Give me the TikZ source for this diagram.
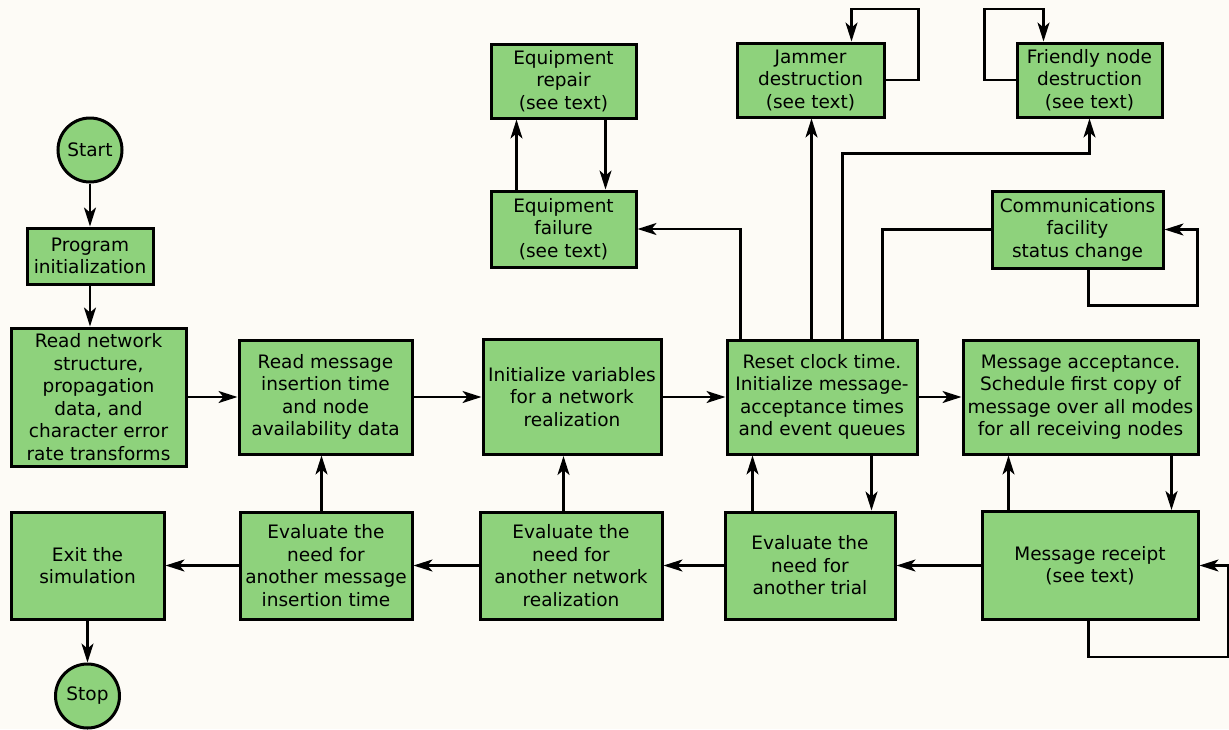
\documentclass[tikz,border=0pt]{standalone}
\usepackage{fontspec}
\setmainfont{DejaVu Sans}
\usetikzlibrary{arrows.meta}
\definecolor{boxgreen}{RGB}{142,210,124}
\definecolor{paper}{RGB}{253,251,246}
\tikzset{
  box/.style={draw=black, line width=3pt, fill=boxgreen, inner sep=0pt, align=center,
    font=\fontsize{18.5}{22.5}\selectfont},
  term/.style={box, circle},
  conn/.style={line width=2.3pt},
  arr/.style={conn, -{Stealth[length=19pt,width=12pt,inset=5pt]}},
}
\begin{document}
\begin{tikzpicture}[x=1pt,y=-1pt]
\fill[paper] (0,0) rectangle (1229,729);
\useasboundingbox (0,0) rectangle (1229,729);

% nodes
\node[term, minimum size=64] (start) at (90,150) {Start};
\node[box, minimum width=126, minimum height=56] (prog) at (90,256) {Program\\initialization};
\node[box, minimum width=175, minimum height=138] (readnet) at (98.5,397) {Read network\\structure,\\propagation\\data, and\\character error\\rate transforms};
\node[box, minimum width=173, minimum height=114] (readmsg) at (325.5,397) {Read message\\insertion time\\and node\\availability data};
\node[box, minimum width=178, minimum height=115] (initvar) at (572,397) {Initialize variables\\for a network\\realization};
\node[box, minimum width=190, minimum height=114] (reset) at (822,397) {Reset clock time.\\Initialize message-\\acceptance times\\and event queues};
\node[box, minimum width=235, minimum height=114] (accept) at (1080.5,397) {Message acceptance.\\Schedule first copy of\\message over all modes\\for all receiving nodes};
\node[box, minimum width=153, minimum height=107] (exit) at (87.5,565.5) {Exit the\\simulation};
\node[box, minimum width=172, minimum height=107] (evalmsg) at (326,565.5) {Evaluate the\\need for\\another message\\insertion time};
\node[box, minimum width=182, minimum height=107] (evalnet) at (571,565.5) {Evaluate the\\need for\\another network\\realization};
\node[box, minimum width=170, minimum height=107] (trial) at (810,565.5) {Evaluate the\\need for\\another trial};
\node[box, minimum width=216, minimum height=108] (receipt) at (1090,565.5) {Message receipt\\(see text)};
\node[term, minimum size=64] (stop) at (87.5,696) {Stop};
\node[box, minimum width=145, minimum height=74] (repair) at (563.5,81) {Equipment\\repair\\(see text)};
\node[box, minimum width=145, minimum height=76] (failure) at (563.5,229) {Equipment\\failure\\(see text)};
\node[box, minimum width=147, minimum height=74] (jammer) at (810.5,80) {Jammer\\destruction\\(see text)};
\node[box, minimum width=145, minimum height=74] (friendly) at (1089.5,80) {Friendly node\\destruction\\(see text)};
\node[box, minimum width=171, minimum height=77] (comm) at (1077.5,229.5) {Communications\\facility\\status change};

% main flow
\draw[arr] (start) -- (prog);
\draw[arr] (prog.south) -- (prog.south |- readnet.north);
\draw[arr] (readnet.east) -- (readmsg.west);
\draw[arr] (readmsg.east) -- (initvar.west);
\draw[arr] (initvar.east) -- (reset.west);
\draw[arr] (reset.east) -- (accept.west);
\draw[arr] ([xshift=28]receipt.north west) coordinate (a1) -- (a1 |- accept.south);
\draw[arr] ([xshift=210]accept.south west) coordinate (a2) -- (a2 |- receipt.north);
\draw[arr] ([xshift=108]receipt.south west) -- ++(0,36) -| ([xshift=29]receipt.east) -- (receipt.east);
\draw[arr] (receipt.west) -- (trial.east);
\draw[arr] ([xshift=29]trial.north west) coordinate (b1) -- (b1 |- reset.south);
\draw[arr] ([xshift=146]reset.south west) coordinate (b2) -- (b2 |- trial.north);
\draw[arr] (trial.west) -- (evalnet.east);
\draw[arr] ([xshift=85]evalnet.north west) coordinate (c1) -- (c1 |- initvar.south);
\draw[arr] (evalnet.west) -- (evalmsg.east);
\draw[arr] ([xshift=83]evalmsg.north west) coordinate (c2) -- (c2 |- readmsg.south);
\draw[arr] (evalmsg.west) -- (exit.east);
\draw[arr] (exit.south) -- (stop.north);

% upper events
\draw[arr] ([xshift=15]reset.north west) |- (failure.east);
\draw[arr] ([xshift=86]reset.north west) coordinate (d2) -- (d2 |- jammer.south);
\draw[arr] ([xshift=117]reset.north west) -- ++(0,-185) -| (friendly.south);
\draw[conn] ([xshift=157]reset.north west) |- (comm.west);
\draw[arr] ([xshift=98]comm.south west) -- ++(0,36) -| ([xshift=33]comm.east) -- (comm.east);
\draw[arr] (jammer.east) -- ++(33,0) -- ++(0,-71) -| ([xshift=116]jammer.north west);
\draw[arr] (friendly.west) -- ++(-31,0) -- ++(0,-71) -| ([xshift=28]friendly.north west);
\draw[arr] ([xshift=27]failure.north west) coordinate (e1) -- (e1 |- repair.south);
\draw[arr] ([xshift=116]repair.south west) coordinate (e2) -- (e2 |- failure.north);
\end{tikzpicture}
\end{document}
